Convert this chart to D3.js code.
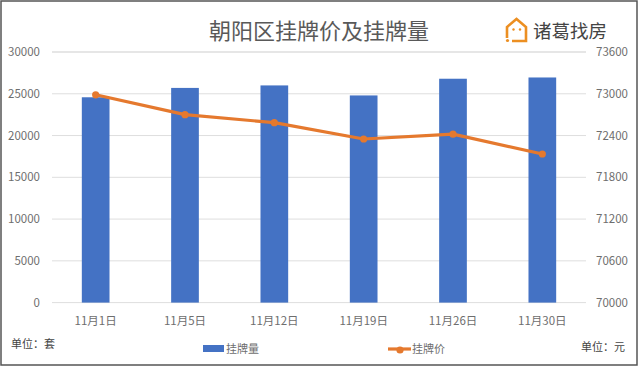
<!DOCTYPE html>
<html>
<head>
<meta charset="utf-8">
<script src="https://d3js.org/d3.v7.min.js"></script>
<style>
  html, body { margin: 0; padding: 0; background: #fff; }
  svg { display: block; }
  text { font-family: "Noto Sans CJK SC", "Noto Sans", sans-serif; }
</style>
</head>
<body>
<svg id="chart" width="640" height="368"></svg>
<script>
// values
const dates = ["11月1日", "11月5日", "11月12日", "11月19日", "11月26日", "11月30日"];
const listingCount = [24580, 25700, 26000, 24800, 26800, 26950];
const listingPrice = [72985, 72700, 72585, 72350, 72420, 72135];
const leftTicks = [0, 5000, 10000, 15000, 20000, 25000, 30000];
const rightTicks = [70000, 70600, 71200, 71800, 72400, 73000, 73600];

const svg = d3.select("#chart");
const textColor = "#6e6e6e";
const orange = "#e5792e";
const blue = "#4472c4";

// outer frame of the screenshot
svg.append("rect")
    .attr("x", 1).attr("y", 1)
    .attr("width", 636).attr("height", 364)
    .attr("fill", "#fff")
    .attr("stroke", "#555")
    .attr("stroke-width", 1.5);

const x = d3.scaleBand().domain(dates).range([51, 587]).paddingInner(0.69).paddingOuter(0.345);
const yLeft = d3.scaleLinear().domain([0, 30000]).range([302.6, 52]);
const yRight = d3.scaleLinear().domain([70000, 73600]).range([302.6, 52]);

// gridlines
svg.append("g")
    .selectAll("line")
    .data(leftTicks)
    .join("line")
    .attr("x1", 52)
    .attr("x2", 586)
    .attr("y1", d => yLeft(d))
    .attr("y2", d => yLeft(d))
    .attr("stroke", "#dedede")
    .attr("stroke-width", d => d === 30000 ? 1.5 : 1);

// axes, only the labels are visible
const axisLeft = svg.append("g")
    .attr("transform", "translate(43,0)")
    .call(d3.axisLeft(yLeft).tickValues(leftTicks).tickFormat(d3.format("d")).tickSize(0));
const axisRight = svg.append("g")
    .attr("transform", "translate(596,0)")
    .call(d3.axisRight(yRight).tickValues(rightTicks).tickFormat(d3.format("d")).tickSize(0));
const axisBottom = svg.append("g")
    .attr("transform", "translate(0,314)")
    .call(d3.axisBottom(x).tickSize(0));

[axisLeft, axisRight, axisBottom].forEach(a => {
    a.select(".domain").remove();
    a.selectAll("text")
        .attr("fill", textColor)
        .style("font-size", "11.5px");
});
axisLeft.selectAll("text").attr("x", -3);
axisRight.selectAll("text").attr("x", 0);

// bars
svg.append("g")
    .selectAll("rect")
    .data(listingCount)
    .join("rect")
    .attr("x", (d, i) => x(dates[i]))
    .attr("y", d => yLeft(d))
    .attr("width", x.bandwidth())
    .attr("height", d => yLeft(0) - yLeft(d))
    .attr("fill", blue);

// price line
const line = d3.line()
    .x((d, i) => x(dates[i]) + x.bandwidth() / 2)
    .y(d => yRight(d));

svg.append("path")
    .datum(listingPrice)
    .attr("d", line)
    .attr("fill", "none")
    .attr("stroke", orange)
    .attr("stroke-width", 3.2)
    .attr("stroke-linejoin", "round");

svg.append("g")
    .selectAll("circle")
    .data(listingPrice)
    .join("circle")
    .attr("cx", (d, i) => x(dates[i]) + x.bandwidth() / 2)
    .attr("cy", d => yRight(d))
    .attr("r", 3.6)
    .attr("fill", orange);

// title
svg.append("text")
    .attr("x", 319)
    .attr("y", 39)
    .attr("text-anchor", "middle")
    .attr("fill", "#595959")
    .style("font-size", "22px")
    .text("朝阳区挂牌价及挂牌量");

// logo
const logo = svg.append("g").attr("transform", "translate(506,18)");
logo.append("path")
    .attr("d", "M1 20 V9 L10.5 1 L20 9 V23 H6")
    .attr("fill", "none")
    .attr("stroke", "#ec8f22")
    .attr("stroke-width", 2.6);
logo.append("circle").attr("cx", 1.5).attr("cy", 22.5).attr("r", 1.6).attr("fill", "#ec8f22");
logo.append("circle").attr("cx", 7.5).attr("cy", 11.5).attr("r", 1.2).attr("fill", "#ec8f22");
logo.append("circle").attr("cx", 14).attr("cy", 11.5).attr("r", 1.2).attr("fill", "#ec8f22");
svg.append("text")
    .attr("x", 533)
    .attr("y", 38)
    .attr("fill", "#444")
    .style("font-size", "18.5px")
    .text("诸葛找房");

// units
svg.append("text").attr("x", 11).attr("y", 348).attr("fill", "#444")
    .style("font-size", "11px").text("单位：套");
svg.append("text").attr("x", 581).attr("y", 351).attr("fill", "#444")
    .style("font-size", "11px").text("单位：元");

// legend
svg.append("rect").attr("x", 203).attr("y", 345).attr("width", 21).attr("height", 7).attr("fill", blue);
svg.append("text").attr("x", 226).attr("y", 353).attr("fill", textColor)
    .style("font-size", "11px").text("挂牌量");
svg.append("line").attr("x1", 388).attr("x2", 411).attr("y1", 349).attr("y2", 349)
    .attr("stroke", orange).attr("stroke-width", 3.2);
svg.append("circle").attr("cx", 400).attr("cy", 350).attr("r", 3.6).attr("fill", orange);
svg.append("text").attr("x", 412).attr("y", 353).attr("fill", textColor)
    .style("font-size", "11px").text("挂牌价");
</script>
</body>
</html>
